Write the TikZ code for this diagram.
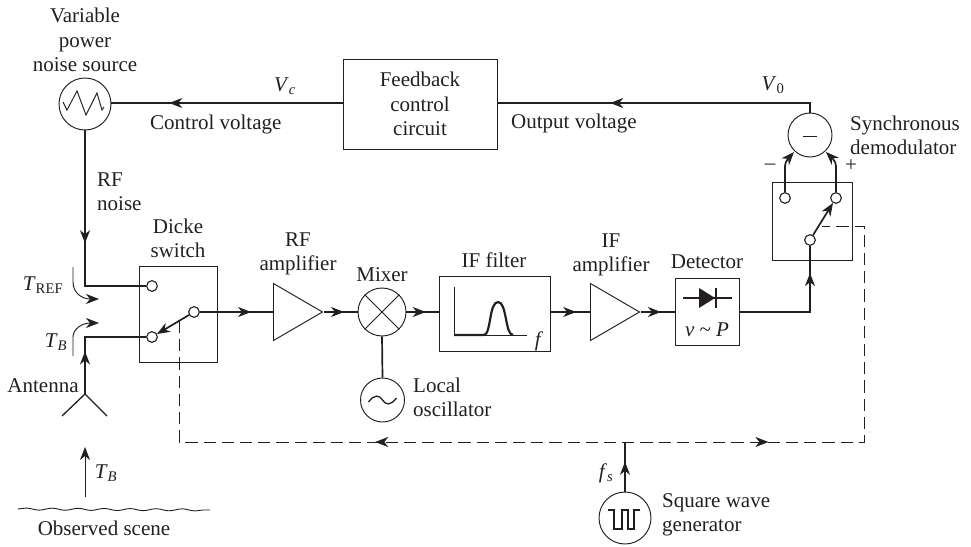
\documentclass[tikz,border=0pt]{standalone}
\usepackage{fontspec}
\setmainfont{Liberation Serif}
\definecolor{ink}{HTML}{231F20}
\usetikzlibrary{arrows.meta,positioning,calc,shapes.geometric,decorations.markings,decorations.pathmorphing}
\newcommand{\vsym}[2]{\textit{#1}\textsubscript{#2}}
\tikzset{
  >={Stealth[length=13pt,width=10pt,inset=4pt]},
  box/.style={draw=ink,line width=0.95pt,inner sep=0pt,align=center},
  circ/.style={draw=ink,circle,line width=0.95pt,inner sep=0pt,fill=white},
  contact/.style={circ,minimum size=10.5pt},
  amp/.style={draw=ink,line width=0.95pt,isosceles triangle,isosceles triangle stretches,inner sep=0pt,minimum width=57pt,minimum height=49pt,anchor=lower side},
  lab/.style={font=\fontsize{21}{24.2}\selectfont,text=ink,align=center,inner sep=0pt},
  sig/.style={draw=ink,line width=1.7pt},
  thinl/.style={draw=ink,line width=0.95pt},
  dashl/.style={draw=ink,line width=0.95pt,dash pattern=on 12.2pt off 6pt},
  arrat/.style={postaction={decorate},decoration={markings,mark=at position #1 with {\arrow[ink]{>}}}},
}
\begin{document}
\begin{tikzpicture}[x=1pt,y=-1pt]
\useasboundingbox (0,0) rectangle (971,546);
% blocks
\node[circ,minimum size=52pt] (noise) at (85,104) {};
\node[box,minimum width=154pt,minimum height=90pt] (fb) at (420,104) {};
\node[box,minimum width=78pt,minimum height=96pt] (dicke) at (178,314) {};
\node[amp] (rfamp) at (273,312) {};
\node[circ,minimum size=48pt] (mix) at (382,312) {};
\node[box,minimum width=111pt,minimum height=75pt] (iff) at (494.5,313.5) {};
\node[amp] (ifamp) at (590,312) {};
\node[box,minimum width=64pt,minimum height=67pt] (det) at (707,311.5) {};
\node[circ,minimum size=44pt] (lo) at (382.5,400) {};
\node[circ,minimum size=44pt] (dem) at (810,135) {};
\node[box,minimum width=80pt,minimum height=78pt] (sync) at (812,221) {};
\node[circ,minimum size=52pt] (sq) at (625,518) {};
% switch contacts
\node[contact] (c1) at (152,286) {};
\node[contact] (c2) at (152,337) {};
\node[contact] (c3) at (194,312) {};
\node[contact] (c4) at (785,198) {};
\node[contact] (c5) at (836,198) {};
\node[contact] (c6) at (810,240) {};
\coordinate (ant) at (85,394);
\coordinate (armA) at (179,321);
\coordinate (armB) at (822,226);
\coordinate (dashL) at (179,442);
\coordinate (dashR) at (864,442);
\coordinate (dashJ) at (625,442);
% signal path
\draw[sig,arrat=0.75] (fb.west|-0,103) -- (noise.east|-0,103);
\draw[sig,arrat=0.65] (dem.north) -- (810,103) -- (fb.east|-0,103);
\draw[sig,arrat=0.52] (noise.south) -- (85,286) -- (c1.west);
\draw[sig,arrat=0.7] (c3.east) -- (rfamp.lower side);
\draw[sig,arrat=0.6] (rfamp.apex) -- (mix.west);
\draw[sig,arrat=0.6] (mix.east) -- (iff.west|-mix);
\draw[sig,arrat=0.65] (iff.east|-mix) -- (ifamp.lower side);
\draw[sig,arrat=0.6] (ifamp.apex) -- (det.west|-mix);
\draw[sig,arrat=0.8] (det.east|-mix) -- (810,312) -- (c6.south);
\draw[sig] (mix.south) -- (lo.north);
\draw[sig,arrat=0.36] (ant) -- (85,337) -- (c2.west);
\draw[sig,->] (c3) -- (c2);
\draw[sig,->] (c6) -- (c5);
\draw[sig,->,rounded corners=4pt] (c4.north) -- (785,162) -- (794,152);
\draw[sig,->,rounded corners=4pt] (c5.north) -- (836,162) -- (826,152);
\draw[sig,arrat=0.6] (sq.north) -- (dashJ);
\foreach \u in {c1,c2,c3,c4,c5,c6} \node[contact] at (\u) {};
% dashed control line
\draw[dashl] (armA) -- (dashL) -- (dashR) -- (864,226) -- (armB);
\path[arrat=0.56] (dashJ) -- (dashL);
\path[arrat=0.6] (dashJ) -- (dashR);
% antenna, scene
\draw[thinl,line width=1.3pt] (62,416) -- (ant) -- (107,416);
\draw[thinl,->] (85,497) -- (85,447);
\draw[thinl,line width=0.9pt,decorate,decoration={snake,amplitude=1pt,segment length=26pt}] (18,509) -- (210,510);
\draw[thinl,->] (73,267) -- (73,282) .. controls (73,293) and (82,299) .. (99,299);
\draw[thinl,->] (73,356) -- (73,337) .. controls (73,329) and (82,323) .. (99,323);
% symbols inside blocks
\draw[thinl] (mix.45) -- (mix.225) (mix.135) -- (mix.315);
\draw[thinl,shift={(noise)}] (-22,-2) -- (-18,6) -- (-8,-13) -- (1,11) -- (12,-11) -- (17,6) -- (19,3);
\draw[thinl,line width=1.3pt,shift={(lo)}] (-14,2) .. controls (-8,-6) and (-3,-5) .. (0,0) .. controls (3,5) and (8,6) .. (14,-2);
\draw[thinl,line width=1.3pt,shift={(sq)}] (-17,-8) -- (-11,-8) -- (-11,11) -- (-3,11) -- (-3,-8) -- (3,-8) -- (3,11) -- (9,11) -- (9,-8) -- (15,-8);
\draw[thinl] (454,287) -- (454,335) -- (527,335);
\draw[sig,line width=2.2pt] (454,335) -- (484,335) .. controls (491,335) and (489,302) .. (498,302) .. controls (507,302) and (505,335) .. (513,335);
\draw[sig,line width=1.3pt] (683,298) -- (732,298);
\fill[ink] (699,288) -- (715,298) -- (699,308) -- cycle;
\draw[sig,line width=1.3pt] (716,288) -- (716,308);
\draw[thinl] (803,136) -- (817,136);
% labels
\node[lab] (l1) at (85,40) {Variable\\power\\noise source};
\node[lab,anchor=west] (l2) at (150,124) {Control voltage};
\node[lab] (l3) at (285,86) {\vsym{V}{\textit{c}}};
\node[lab] (l0) at (fb) {Feedback\\control\\circuit};
\node[lab,anchor=west] (l4) at (511,123) {Output voltage};
\node[lab] (l5) at (773,85) {\vsym{V}{0}};
\node[lab,align=left,anchor=west] (l6) at (850,135) {Synchronous\\demodulator};
\node[lab] (l7) at (770,167) {--};
\node[lab] (l8) at (851,166) {+};
\node[lab,align=left,anchor=west] (l9) at (97,192) {RF\\noise};
\node[lab] (l10) at (178,238) {Dicke\\switch};
\node[lab] (l11) at (298,254) {RF\\amplifier};
\node[lab] (l12) at (382,275) {Mixer};
\node[lab] (l13) at (494,260) {IF filter};
\node[lab] (l14) at (611,255) {IF\\amplifier};
\node[lab] (l15) at (707,262) {Detector};
\node[lab] (l16) at (539,341) {\textit{f}};
\node[lab] (l17) at (707,330) {\textit{v} \textasciitilde{} \textit{P}};
\node[lab,align=left,anchor=west] (l18) at (413,397) {Local\\oscillator};
\node[lab] (l19) at (43,285) {\vsym{T}{REF}};
\node[lab] (l20) at (56,342) {\vsym{T}{\textit{B}}};
\node[lab] (l21) at (43,386) {Antenna};
\node[lab] (l22) at (106,473) {\vsym{T}{\textit{B}}};
\node[lab] (l23) at (104,528) {Observed scene};
\node[lab] (l24) at (606,473) {\vsym{\textit{f}}{\textit{s}}};
\node[lab,align=left,anchor=west] (l25) at (662,515) {Square wave\\generator};
\end{tikzpicture}
\end{document}
